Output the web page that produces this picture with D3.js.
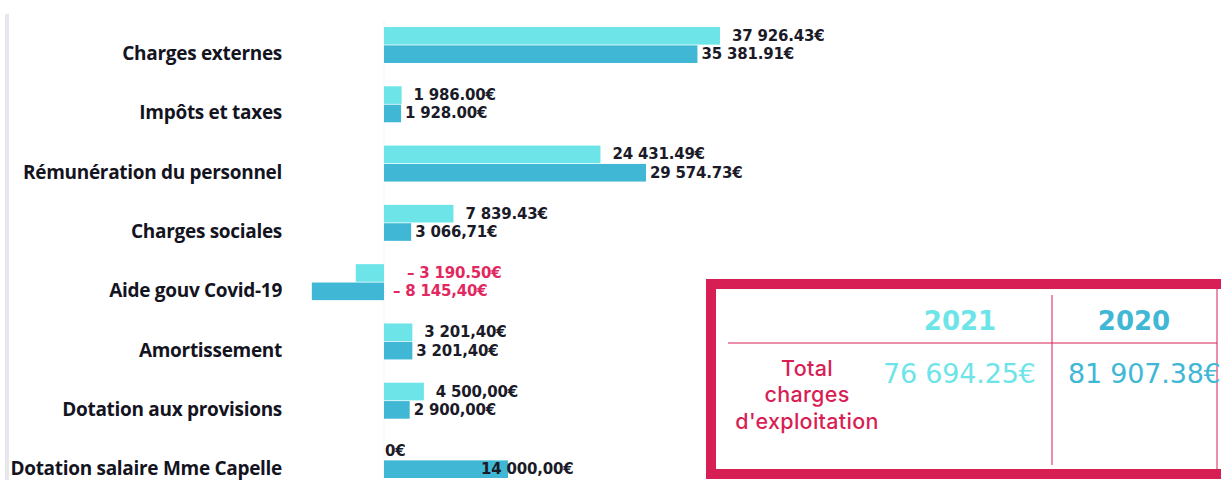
<!DOCTYPE html>
<html>
<head>
<meta charset="utf-8">
<script src="https://cdn.jsdelivr.net/npm/d3@7"></script>
<style>
  body { margin: 0; background: #fff; }
  svg { display: block; }
</style>
</head>
<body>
<div id="chart"></div>
<script>
// categories and values (2021 / 2020)
const categories = [
  "Charges externes",
  "Impôts et taxes",
  "Rémunération du personnel",
  "Charges sociales",
  "Aide gouv Covid-19",
  "Amortissement",
  "Dotation aux provisions",
  "Dotation salaire Mme Capelle"
];
const years = ["2021", "2020"];
const values2021 = [37926.43, 1986.00, 24431.49, 7839.43, -3190.50, 3201.40, 4500.00, 0];
const values2020 = [35381.91, 1928.00, 29574.73, 3066.71, -8145.40, 3201.40, 2900.00, 14000.00];
const labels2021 = ["37 926.43€", "1 986.00€", "24 431.49€", "7 839.43€", "– 3 190.50€", "3 201,40€", "4 500,00€", "0€"];
const labels2020 = ["35 381.91€", "1 928.00€", "29 574.73€", "3 066,71€", "– 8 145,40€", "3 201,40€", "2 900,00€", "14 000,00€"];
const totals = ["76 694.25€", "81 907.38€"];
const totalLabel = ["Total", "charges", "d'exploitation"];

const W = 1221, H = 480;
const colors = { "2021": "#6de5e8", "2020": "#41b7d6" };
const red = "#d81f55";

const svg = d3.select("#chart").append("svg")
  .attr("width", W)
  .attr("height", H);

const y0 = d3.scaleBand()
  .domain(categories)
  .range([27, 478])
  .paddingInner(0.393);

const y1 = d3.scaleBand()
  .domain(years)
  .range([0, y0.bandwidth()])
  .paddingInner(0.04);

const x = d3.scaleLinear()
  .domain([0, d3.max(values2021)])
  .range([384, 720]);

const rows = categories.map((c, i) => ({
  cat: c,
  bars: [
    { year: "2021", v: values2021[i], label: labels2021[i] },
    { year: "2020", v: values2020[i], label: labels2020[i] }
  ]
}));

// left grey rule
svg.append("rect")
  .attr("x", 5).attr("y", 14)
  .attr("width", 4).attr("height", H - 14)
  .attr("fill", "#e6e7ed");

// faint zero line
svg.append("line")
  .attr("x1", x(0)).attr("x2", x(0))
  .attr("y1", 20).attr("y2", H)
  .attr("stroke", "#f1f5f9")
  .attr("stroke-width", 1);

// category labels
svg.selectAll(".cat")
  .data(categories)
  .enter()
  .append("text")
  .attr("x", 282)
  .attr("y", d => y0(d) + y1("2020") + y1.bandwidth() / 2 + 6)
  .attr("text-anchor", "end")
  .style("font-family", "'Open Sans', sans-serif")
  .style("font-weight", "700")
  .style("font-size", "19px")
  .style("letter-spacing", "-0.3px")
  .style("fill", "#14141f")
  .text(d => d);

const groups = svg.selectAll(".row")
  .data(rows)
  .enter()
  .append("g")
  .attr("transform", d => `translate(0,${y0(d.cat)})`);

groups.selectAll("rect")
  .data(d => d.bars)
  .enter()
  .append("rect")
  .attr("x", d => x(Math.min(0, d.v)))
  .attr("y", d => y1(d.year))
  .attr("width", d => Math.abs(x(d.v) - x(0)))
  .attr("height", y1.bandwidth())
  .attr("fill", d => colors[d.year]);

groups.each(function (row) {
  d3.select(this).selectAll(".val")
    .data(row.bars)
    .enter()
    .append("text")
    .attr("x", d => {
      if (row.cat === "Dotation salaire Mme Capelle" && d.year === "2020") return x(d.v) - 27;
      if (d.v === 0) return x(0) + 1;
      if (d.v < 0) return x(0) + (d.year === "2021" ? 23 : 9);
      return x(d.v) + (d.year === "2021" ? 12 : 4);
    })
    .attr("y", d => y1(d.year) + y1.bandwidth() / 2 + 5)
    .style("font-family", "'DejaVu Sans', sans-serif")
    .style("font-weight", "700")
    .style("font-size", "15px")
    .style("letter-spacing", "-0.2px")
    .style("fill", d => d.v < 0 ? "#e2285f" : "#1a1a28")
    .text(d => d.label);
});

// totals box
const box = svg.append("g");

box.append("rect")
  .attr("x", 711).attr("y", 284)
  .attr("width", 620).attr("height", 190)
  .attr("fill", "#fff")
  .attr("stroke", red)
  .attr("stroke-width", 10);

box.append("line")
  .attr("x1", 728).attr("x2", 1217)
  .attr("y1", 343).attr("y2", 343)
  .attr("stroke", red).attr("stroke-width", 1);

box.append("line")
  .attr("x1", 1052).attr("x2", 1052)
  .attr("y1", 295).attr("y2", 465)
  .attr("stroke", red).attr("stroke-width", 1);

box.append("line")
  .attr("x1", 1217).attr("x2", 1217)
  .attr("y1", 289).attr("y2", 469)
  .attr("stroke", red).attr("stroke-width", 1);

const colX = { "2021": 960, "2020": 1134 };

box.selectAll(".year")
  .data(years)
  .enter()
  .append("text")
  .attr("x", d => colX[d])
  .attr("y", 330)
  .attr("text-anchor", "middle")
  .style("font-family", "'DejaVu Sans', sans-serif")
  .style("font-weight", "700")
  .style("font-size", "26px")
  .style("fill", d => colors[d])
  .text(d => d);

box.selectAll(".total")
  .data(totals)
  .enter()
  .append("text")
  .attr("x", (d, i) => i === 0 ? 883 : 1068)
  .attr("y", 383)
  .style("font-family", "'DejaVu Sans', sans-serif")
  .style("font-weight", "400")
  .style("font-size", "27px")
  .style("letter-spacing", "-0.2px")
  .style("fill", (d, i) => colors[years[i]])
  .text(d => d);

const tl = box.append("text")
  .attr("text-anchor", "middle")
  .style("font-family", "Inter, sans-serif")
  .style("font-weight", "500")
  .style("font-size", "21.5px")
  .style("letter-spacing", "0.3px")
  .style("fill", red);

tl.selectAll("tspan")
  .data(totalLabel)
  .enter()
  .append("tspan")
  .attr("x", 807)
  .attr("y", (d, i) => 376 + i * 26.3)
  .text(d => d);
</script>
</body>
</html>
